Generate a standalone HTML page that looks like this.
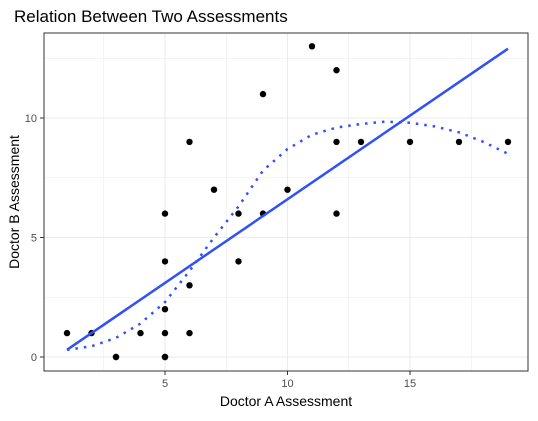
<!DOCTYPE html>
<html><head><meta charset="utf-8"><style>
body{margin:0;background:#fff;font-family:"Liberation Sans",sans-serif}
</style></head><body>
<svg id="c" width="538" height="416" xmlns="http://www.w3.org/2000/svg">
<text x="14" y="22" font-size="17" fill="#000">Relation Between Two Assessments</text>
<g id="grid"></g>
<rect x="44" y="33" width="484" height="338" fill="none" stroke="#333" stroke-width="1"/>
<g id="marks"></g>
<text x="286" y="406" font-size="14" text-anchor="middle">Doctor A Assessment</text>
<text transform="translate(19,202) rotate(-90)" font-size="14" text-anchor="middle">Doctor B Assessment</text>
</svg>
<script>
const xs=[1,2,3,3,4,5,5,5,5,5,5,6,6,6,7,8,8,9,9,10,11,12,12,12,13,15,17,19];
const ys=[1,1,0,0,1,0,0,1,2,4,6,1,3,9,7,4,6,6,11,7,13,12,9,6,9,9,9,9];
const fitX=[1,19];
const fitY=[0.3,12.9];
const loessX=[1,2,3,4,5,6,7,8,9,10,11,12,13,14,15,16,17,18,19];
const loessY=[0.3,0.45,0.8,1.4,2.3,3.6,5.0,6.3,7.8,8.7,9.3,9.6,9.75,9.85,9.8,9.65,9.4,9.0,8.5];
const xTicks=[5,10,15];
const yTicks=[0,5,10];
const sx=v=>165+(v-5)*24.5;
const sy=v=>357-v*23.9;
const NS="http://www.w3.org/2000/svg";
const grid=document.getElementById('grid'),marks=document.getElementById('marks'),svg=document.getElementById('c');
function mk(tag,at,par){const e=document.createElementNS(NS,tag);for(const k in at)e.setAttribute(k,at[k]);par.appendChild(e);return e;}
for(let v=2.5;v<=20;v+=2.5){const x=sx(v);if(x<44||x>528)continue;
const l=mk('line',{x1:x,x2:x,y1:33,y2:371,stroke:'#ebebeb','stroke-width':v%5===0?1.1:0.6},grid);

}
for(let v=-2.5;v<=15;v+=2.5){const y=sy(v);if(y<33||y>371)continue;
const l=mk('line',{x1:44,x2:528,y1:y,y2:y,stroke:'#ebebeb','stroke-width':v%5===0?1.1:0.6},grid);

}
xTicks.forEach(v=>{const x=sx(v);mk('line',{x1:x,x2:x,y1:371,y2:375,stroke:'#333'},svg);
const t=mk('text',{x:x,y:387,'font-size':11,fill:'#4d4d4d','text-anchor':'middle'},svg);t.textContent=v;

});
yTicks.forEach(v=>{const y=sy(v);mk('line',{x1:40,x2:44,y1:y,y2:y,stroke:'#333'},svg);
const t=mk('text',{x:37,y:y+4,'font-size':11,fill:'#4d4d4d','text-anchor':'end'},svg);t.textContent=v;

});
xs.forEach((v,i)=>{const c=mk('circle',{cx:sx(v),cy:sy(ys[i]),r:3.2,fill:'#000'},marks);

});
const fl=mk('line',{x1:sx(fitX[0]),y1:sy(fitY[0]),x2:sx(fitX[1]),y2:sy(fitY[1]),stroke:'#3050f8','stroke-width':2.5},marks);


const lp=mk('polyline',{points:loessX.map((v,i)=>sx(v)+','+sy(loessY[i])).join(' '),fill:'none',stroke:'#3050f8','stroke-width':2.5,'stroke-dasharray':'2.5 6'},marks);


</script>
</body></html>
